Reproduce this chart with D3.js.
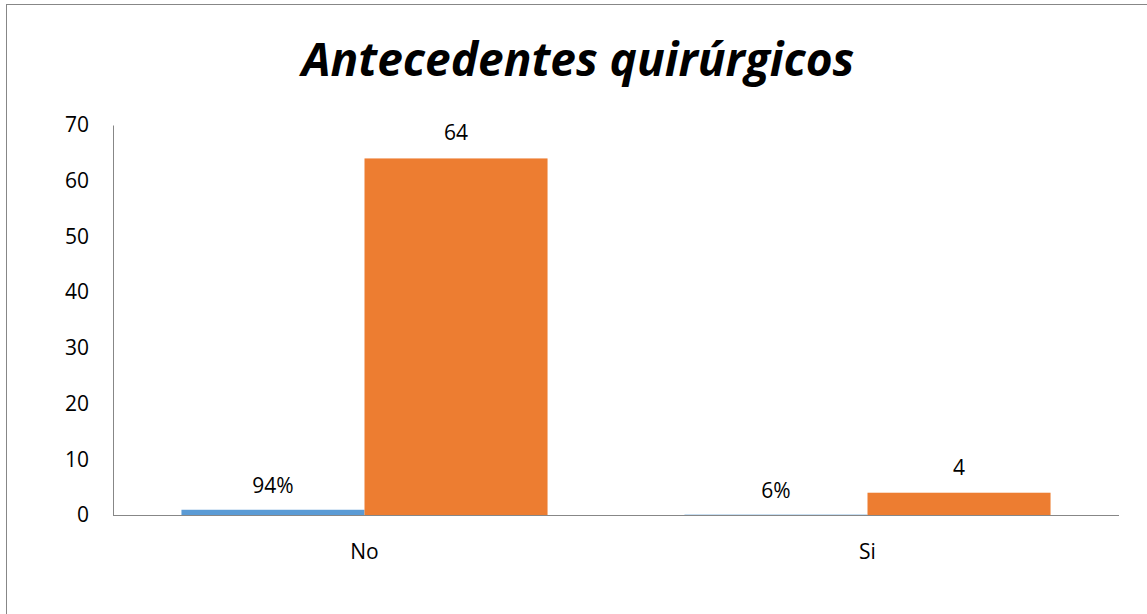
<!DOCTYPE html>
<html>
<head>
<meta charset="utf-8">
<script src="https://cdn.jsdelivr.net/npm/d3@7"></script>
<style>
  body { margin: 0; background: #fff; }
  svg { display: block; font-family: "Open Sans", "Noto Sans", sans-serif; }
</style>
</head>
<body>
<div id="chart"></div>
<script>
// Chart data
const categories = ['No', 'Si'];
const percentValues = [0.94, 0.06];   // blue series (share)
const percentLabels = ['94%', '6%'];
const countValues = [64, 4];          // orange series (count)
const yTicks = [0, 10, 20, 30, 40, 50, 60, 70];
const title = 'Antecedentes quirúrgicos';

const width = 1147, height = 614;
const margin = { top: 125, right: 28, bottom: 99, left: 113 };

const svg = d3.select('#chart').append('svg')
    .attr('width', width)
    .attr('height', height);

// outer frame
svg.append('rect')
    .attr('x', 6.5).attr('y', 4.5)
    .attr('width', width).attr('height', height)
    .attr('fill', 'none')
    .attr('stroke', '#878787')
    .attr('stroke-width', 1);

svg.append('text')
    .attr('x', 578).attr('y', 76)
    .attr('text-anchor', 'middle')
    .style('font-size', '46px')
    .style('font-weight', 'bold')
    .style('font-style', 'italic')
    .text(title);

const x = d3.scaleBand()
    .domain(categories)
    .range([margin.left, width - margin.right])
    .paddingInner(0)
    .paddingOuter(0);

const series = ['pct', 'count'];
const xSub = d3.scaleBand()
    .domain(series)
    .range([0, x.bandwidth()])
    .paddingOuter(0.374)
    .paddingInner(0);

const y = d3.scaleLinear()
    .domain([0, 70])
    .range([height - margin.bottom, margin.top]);

// y axis
const yAxis = svg.append('g')
    .attr('transform', `translate(${margin.left},0)`)
    .call(d3.axisLeft(y).tickValues(yTicks).tickSize(0).tickPadding(24));
yAxis.select('.domain').attr('stroke', '#878787');
yAxis.selectAll('text')
    .style('font-size', '21px')
    .attr('fill', '#000')
    .attr('font-family', '"Open Sans", sans-serif');

const rows = categories.map((c, i) => ({
    cat: c, pct: percentValues[i], pctLabel: percentLabels[i], count: countValues[i]
}));

// blue bars (percent)
svg.selectAll('rect.pct')
    .data(rows)
    .join('rect')
    .attr('class', 'pct')
    .attr('x', d => x(d.cat) + xSub('pct'))
    .attr('width', xSub.bandwidth())
    .attr('y', d => y(d.pct))
    .attr('height', d => y(0) - y(d.pct))
    .attr('fill', '#5b9bd5');

// orange bars (count)
svg.selectAll('rect.count')
    .data(rows)
    .join('rect')
    .attr('class', 'count')
    .attr('x', d => x(d.cat) + xSub('count'))
    .attr('width', xSub.bandwidth())
    .attr('y', d => y(d.count))
    .attr('height', d => y(0) - y(d.count))
    .attr('fill', '#ed7d31');

// x axis baseline
svg.append('line')
    .attr('x1', margin.left).attr('x2', width - margin.right)
    .attr('y1', y(0) + 0.5).attr('y2', y(0) + 0.5)
    .attr('stroke', '#878787');

// data labels
svg.selectAll('text.pctLabel')
    .data(rows)
    .join('text')
    .attr('class', 'pctLabel')
    .attr('x', d => x(d.cat) + xSub('pct') + xSub.bandwidth() / 2)
    .attr('y', d => y(d.pct) - 17)
    .attr('text-anchor', 'middle')
    .style('font-size', '21px')
    .text(d => d.pctLabel);

svg.selectAll('text.countLabel')
    .data(rows)
    .join('text')
    .attr('class', 'countLabel')
    .attr('x', d => x(d.cat) + xSub('count') + xSub.bandwidth() / 2)
    .attr('y', d => y(d.count) - 18)
    .attr('text-anchor', 'middle')
    .style('font-size', '21px')
    .text(d => d.count);

// category labels
svg.selectAll('text.cat')
    .data(categories)
    .join('text')
    .attr('class', 'cat')
    .attr('x', d => x(d) + x.bandwidth() / 2)
    .attr('y', 559)
    .attr('text-anchor', 'middle')
    .style('font-size', '21px')
    .text(d => d);
</script>
</body>
</html>
